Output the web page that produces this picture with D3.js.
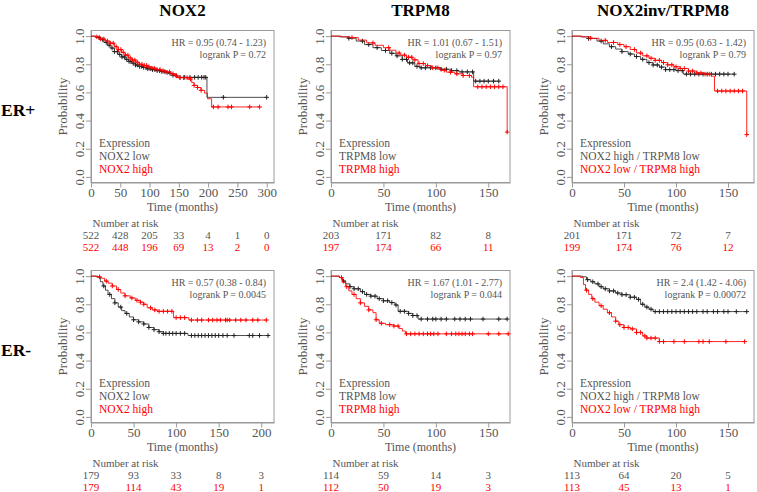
<!DOCTYPE html>
<html>
<head>
<meta charset="utf-8">
<script src="https://cdn.jsdelivr.net/npm/d3@7/dist/d3.min.js"></script>
<style>
  body { margin: 0; background: #fff; }
  svg { display: block; font-family: "Liberation Serif", "Times New Roman", serif; }
</style>
</head>
<body>
<svg id="fig" width="757" height="492"></svg>
<script>
// ---- data ----
var geneTitles = ["NOX2", "TRPM8", "NOX2inv/TRPM8"];
var rowLabels = ["ER+", "ER-"];
var lowNames = ["NOX2 low", "TRPM8 low", "NOX2 high / TRPM8 low"];
var highNames = ["NOX2 high", "TRPM8 high", "NOX2 low / TRPM8 high"];
var hrLabels = ["HR = 0.95 (0.74 - 1.23)", "HR = 1.01 (0.67 - 1.51)", "HR = 0.95 (0.63 - 1.42)",
                "HR = 0.57 (0.38 - 0.84)", "HR = 1.67 (1.01 - 2.77)", "HR = 2.4 (1.42 - 4.06)"];
var pLabels = ["logrank P = 0.72", "logrank P = 0.97", "logrank P = 0.79",
               "logrank P = 0.0045", "logrank P = 0.044", "logrank P = 0.00072"];

// survival steps [months, probability]
var erPosNox2Low = [[0,1],[8,0.99],[15,0.975],[22,0.955],[28,0.935],[34,0.915],[40,0.89],[46,0.87],[52,0.852],
  [58,0.835],[64,0.82],[70,0.808],[76,0.795],[82,0.785],[88,0.777],[95,0.768],[102,0.762],[110,0.755],[118,0.748],
  [126,0.742],[134,0.735],[140,0.722],[146,0.71],[150,0.707],[198,0.565],[300,0.565]];
var erPosNox2High = [[0,1],[8,0.995],[16,0.98],[24,0.965],[32,0.95],[40,0.925],[46,0.905],[52,0.885],[58,0.865],
  [64,0.845],[70,0.83],[76,0.815],[82,0.8],[88,0.792],[96,0.782],[104,0.772],[112,0.762],[120,0.754],[128,0.745],
  [136,0.732],[142,0.718],[148,0.705],[165,0.695],[172,0.67],[176,0.65],[182,0.635],[188,0.615],[194,0.595],
  [199,0.555],[206,0.497],[288,0.497]];
var erPosTrpm8Low = [[0,1],[8,0.995],[16,0.985],[24,0.965],[32,0.94],[40,0.918],[48,0.898],[56,0.878],[62,0.86],
  [68,0.835],[73,0.81],[80,0.785],[85,0.775],[105,0.765],[115,0.755],[122,0.746],[136,0.68],[160,0.68]];
var erPosTrpm8High = [[0,1],[10,0.995],[18,0.99],[26,0.972],[34,0.952],[42,0.935],[50,0.918],[56,0.9],[62,0.88],
  [66,0.865],[72,0.85],[78,0.832],[83,0.805],[90,0.79],[96,0.775],[104,0.758],[110,0.744],[118,0.732],[126,0.72],
  [134,0.708],[136,0.64],[168,0.318]];
var erPosInvLow = [[0,1],[8,0.995],[16,0.983],[24,0.965],[30,0.945],[36,0.925],[42,0.908],[48,0.89],[54,0.873],
  [60,0.855],[66,0.835],[72,0.812],[78,0.795],[84,0.78],[90,0.762],[100,0.755],[107,0.73],[156,0.73]];
var erPosInvHigh = [[0,1],[10,0.995],[18,0.985],[26,0.97],[34,0.955],[44,0.94],[50,0.925],[56,0.905],[62,0.88],
  [68,0.86],[74,0.843],[80,0.828],[86,0.812],[92,0.796],[98,0.782],[104,0.77],[112,0.752],[120,0.738],[128,0.73],
  [134,0.715],[137,0.61],[168,0.3]];
var erNegNox2Low = [[0,1],[8,0.99],[11,0.96],[14,0.93],[17,0.9],[20,0.87],[24,0.84],[28,0.81],[32,0.78],[36,0.755],
  [40,0.735],[45,0.71],[50,0.69],[56,0.675],[62,0.66],[68,0.635],[74,0.62],[80,0.605],[85,0.593],[114,0.578],[208,0.578]];
var erNegNox2High = [[0,1],[6,0.995],[12,0.985],[16,0.965],[20,0.95],[25,0.93],[30,0.905],[35,0.88],[40,0.86],
  [46,0.845],[52,0.828],[58,0.815],[62,0.8],[66,0.775],[72,0.76],[78,0.75],[97,0.705],[115,0.688],[206,0.688]];
var erNegTrpm8Low = [[0,1],[8,0.99],[11,0.965],[14,0.945],[18,0.925],[22,0.91],[28,0.89],[32,0.87],[38,0.858],
  [44,0.84],[50,0.825],[56,0.812],[61,0.795],[64,0.75],[74,0.735],[78,0.72],[83,0.695],[168,0.695]];
var erNegTrpm8High = [[0,1],[8,0.99],[11,0.955],[14,0.925],[17,0.895],[20,0.87],[24,0.84],[28,0.81],[32,0.785],
  [36,0.76],[40,0.74],[43,0.69],[46,0.665],[52,0.655],[60,0.645],[65,0.628],[68,0.61],[71,0.59],[169,0.59]];
var erNegInvLow = [[0,1],[10,0.995],[14,0.975],[18,0.96],[22,0.945],[26,0.925],[30,0.91],[36,0.895],[42,0.88],
  [48,0.868],[56,0.85],[62,0.835],[66,0.8],[70,0.78],[74,0.765],[78,0.748],[168,0.748]];
var erNegInvHigh = [[0,1],[8,0.99],[11,0.94],[13,0.9],[16,0.87],[19,0.84],[22,0.815],[26,0.79],[30,0.765],[34,0.74],
  [38,0.71],[42,0.68],[45,0.655],[50,0.635],[56,0.625],[62,0.6],[68,0.575],[72,0.56],[84,0.535],[166,0.535]];

// censoring times (months)
var erPosNox2LowCens = [14,20,26,31,36,40,45,49,53,57,61,65,68,72,76,79,83,86,90,94,97,101,105,109,113,117,121,125,
  130,135,140,145,152,160,169,177,183,189,193,196,226,300];
var erPosNox2HighCens = [10,16,22,28,33,38,43,47,51,55,59,63,67,71,75,79,83,87,91,95,99,104,108,113,118,123,128,134,
  140,146,152,158,164,170,176,182,188,209,217,234,240,271,288];
var erPosTrpm8LowCens = [17,30,36,44,52,58,63,68,72,75,78,82,86,90,95,100,105,110,115,120,125,130,135,138,142,146,150,155,160];
var erPosTrpm8HighCens = [20,40,55,65,70,74,77,80,84,88,92,97,102,108,114,120,126,132,140,144,148,152,156,160,164,168];
var erPosInvLowCens = [16,28,38,48,56,62,68,74,78,82,86,90,94,98,102,106,110,114,118,122,126,130,134,138,142,146,150,156];
var erPosInvHighCens = [18,32,40,46,52,60,66,72,76,80,84,88,92,96,100,104,108,112,116,120,124,128,132,140,144,148,152,156,160,164,168];
var erNegNox2LowCens = [15,22,28,35,42,50,56,62,68,74,80,85,88,92,96,100,105,110,118,122,126,130,134,138,142,146,150,155,160,168,186,190,198,208];
var erNegNox2HighCens = [10,18,25,32,40,48,54,58,62,70,75,80,85,90,95,100,105,110,118,125,130,138,143,148,152,158,160,163,170,176,182,190,196,206];
var erNegTrpm8LowCens = [12,18,22,26,30,34,38,42,46,50,54,58,62,66,70,74,78,82,86,92,97,100,105,110,118,123,128,133,145,160,168];
var erNegTrpm8HighCens = [10,15,22,28,36,43,48,56,60,64,72,76,80,84,88,92,95,98,102,110,115,119,122,125,128,132,135,150,160,169];
var erNegInvLowCens = [15,20,25,28,32,36,40,44,48,52,56,60,64,68,72,76,80,84,88,92,96,100,104,108,112,116,120,126,130,136,140,146,150,158,168];
var erNegInvHighCens = [14,20,28,36,42,46,50,54,58,62,66,70,72,76,80,84,88,98,108,122,126,132,148,166];

// number at risk
var riskTimesNox2Pos = [0,50,100,150,200,250,300];
var riskTimesNox2Neg = [0,50,100,150,200];
var riskTimes150 = [0,50,100,150];
var erPosNox2Risk = [[522,428,205,33,4,1,0],[522,448,196,69,13,2,0]];
var erPosTrpm8Risk = [[203,171,82,8],[197,174,66,11]];
var erPosInvRisk = [[201,171,72,7],[199,174,76,12]];
var erNegNox2Risk = [[179,93,33,8,3],[179,114,43,19,1]];
var erNegTrpm8Risk = [[114,59,14,3],[112,50,19,3]];
var erNegInvRisk = [[113,64,20,5],[113,45,13,1]];

// ---- layout ----
var colLeft = [91, 331, 572], colWidth = [183, 179, 182];
var rowTop = [30.5, 270.5], boxH = 152;
var grey = "#555", boxCol = "#9a9a9a", lowCol = "#222", highCol = "#ff0000";

var panels = [
  {row:0, col:0, xEnd:312.5, ticks:riskTimesNox2Pos, low:erPosNox2Low, high:erPosNox2High, lowC:erPosNox2LowCens, highC:erPosNox2HighCens, risk:erPosNox2Risk},
  {row:0, col:1, xEnd:170.7, ticks:riskTimes150, low:erPosTrpm8Low, high:erPosTrpm8High, lowC:erPosTrpm8LowCens, highC:erPosTrpm8HighCens, risk:erPosTrpm8Risk},
  {row:0, col:2, xEnd:175, ticks:riskTimes150, low:erPosInvLow, high:erPosInvHigh, lowC:erPosInvLowCens, highC:erPosInvHighCens, risk:erPosInvRisk},
  {row:1, col:0, xEnd:215, ticks:riskTimesNox2Neg, low:erNegNox2Low, high:erNegNox2High, lowC:erNegNox2LowCens, highC:erNegNox2HighCens, risk:erNegNox2Risk},
  {row:1, col:1, xEnd:170.7, ticks:riskTimes150, low:erNegTrpm8Low, high:erNegTrpm8High, lowC:erNegTrpm8LowCens, highC:erNegTrpm8HighCens, risk:erNegTrpm8Risk},
  {row:1, col:2, xEnd:175, ticks:riskTimes150, low:erNegInvLow, high:erNegInvHigh, lowC:erNegInvLowCens, highC:erNegInvHighCens, risk:erNegInvRisk}
];

var svg = d3.select("#fig");

// column titles and row labels
svg.selectAll(".title").data(geneTitles).enter().append("text")
  .attr("class", "title")
  .attr("x", function (d, i) { return colLeft[i] + colWidth[i] / 2; })
  .attr("y", 15.5)
  .attr("text-anchor", "middle")
  .style("font-size", "17px").style("font-weight", "bold").style("fill", "#000")
  .text(function (d) { return d; });
svg.selectAll(".rowlab").data(rowLabels).enter().append("text")
  .attr("class", "rowlab")
  .attr("x", 1)
  .attr("y", function (d, i) { return rowTop[i] + 85; })
  .style("font-size", "17.5px").style("font-weight", "bold").style("fill", "#000")
  .text(function (d) { return d; });

var bis = d3.bisector(function (d) { return d[0]; }).right;
function stepAt(curve, t) {
  var i = bis(curve, t) - 1;
  return curve[Math.max(0, i)][1];
}

panels.forEach(function (p, k) {
  var left = colLeft[p.col], w = colWidth[p.col], top = rowTop[p.row];
  var x = d3.scaleLinear().domain([0, p.xEnd]).range([left, left + w]);
  var y = d3.scaleLinear().domain([-0.04, 1.04]).range([top + boxH, top]);
  var g = svg.append("g");

  // x axis
  var xa = g.append("g")
    .attr("transform", "translate(0," + (top + boxH) + ")")
    .call(d3.axisBottom(x).tickValues(p.ticks).tickSize(5).tickSizeOuter(0).tickPadding(3));
  xa.select(".domain").attr("stroke", boxCol);
  xa.selectAll(".tick line").attr("stroke", boxCol);
  xa.selectAll(".tick text").attr("dy", 0).attr("y", 14.5)
    .style("font-family", "Liberation Serif").style("font-size", "13px").style("fill", grey);

  // y axis, labels turned like R's default
  var ya = g.append("g")
    .attr("transform", "translate(" + left + ",0)")
    .call(d3.axisLeft(y).tickValues([0, 0.2, 0.4, 0.6, 0.8, 1]).tickFormat(d3.format(".1f")).tickSize(5).tickSizeOuter(0));
  ya.select(".domain").attr("stroke", boxCol);
  ya.selectAll(".tick line").attr("stroke", boxCol);
  ya.selectAll(".tick text")
    .attr("transform", "rotate(-90)")
    .attr("x", 0).attr("y", -7.5).attr("dy", 0)
    .attr("text-anchor", "middle")
    .style("font-family", "Liberation Serif").style("font-size", "13px").style("fill", grey);

  // box
  g.append("rect").attr("x", left).attr("y", top).attr("width", w).attr("height", boxH)
    .attr("fill", "none").attr("stroke", boxCol).attr("stroke-width", 1);

  // axis titles
  g.append("text")
    .attr("x", left + w / 2).attr("y", top + boxH + 28)
    .attr("text-anchor", "middle")
    .style("font-size", "12px").style("fill", grey)
    .text("Time (months)");
  g.append("text")
    .attr("transform", "translate(" + (left - 24) + "," + y(0.5) + ") rotate(-90)")
    .attr("text-anchor", "middle")
    .style("font-size", "13px").style("fill", grey)
    .text("Probability");

  // curves
  var line = d3.line()
    .x(function (d) { return x(d[0]); })
    .y(function (d) { return y(d[1]); })
    .curve(d3.curveStepAfter);
  [[p.low, p.lowC, lowCol], [p.high, p.highC, highCol]].forEach(function (s) {
    g.append("path").attr("d", line(s[0]))
      .attr("fill", "none").attr("stroke", s[2]).attr("stroke-width", 1)
      .attr("stroke-opacity", s[2] === highCol ? 0.85 : 0.8);
    g.selectAll(null).data(s[1]).enter().append("path")
      .attr("d", function (t) {
        var cx = x(t), cy = y(stepAt(s[0], t)), r = 2.3;
        return "M" + (cx - r) + "," + cy + "H" + (cx + r) + "M" + cx + "," + (cy - r) + "V" + (cy + r);
      })
      .attr("stroke", s[2]).attr("stroke-width", 1).attr("fill", "none");
  });

  // HR / logrank
  g.append("text").attr("x", left + w - 8).attr("y", top + 15)
    .attr("text-anchor", "end").style("font-size", "10px").style("fill", grey)
    .text(hrLabels[k]);
  g.append("text").attr("x", left + w - 8).attr("y", top + 27)
    .attr("text-anchor", "end").style("font-size", "10px").style("fill", grey)
    .text(pLabels[k]);

  // legend
  var leg = [["Expression", grey], [lowNames[p.col], grey], [highNames[p.col], highCol]];
  g.selectAll(null).data(leg).enter().append("text")
    .attr("x", left + 8)
    .attr("y", function (d, i) { return top + 116 + i * 13; })
    .style("font-size", "11.5px")
    .style("fill", function (d) { return d[1]; })
    .text(function (d) { return d[0]; });

  // number at risk
  g.append("text").attr("x", left + 1.5).attr("y", top + boxH + 44)
    .style("font-size", "11px").style("fill", grey)
    .text("Number at risk");
  p.risk.forEach(function (vals, r) {
    g.selectAll(null).data(vals).enter().append("text")
      .attr("x", function (d, i) { return x(p.ticks[i]); })
      .attr("y", top + boxH + 56 + r * 12)
      .attr("text-anchor", "middle")
      .style("font-size", "11px")
      .style("fill", r === 0 ? grey : highCol)
      .text(function (d) { return d; });
  });
});
</script>
</body>
</html>
